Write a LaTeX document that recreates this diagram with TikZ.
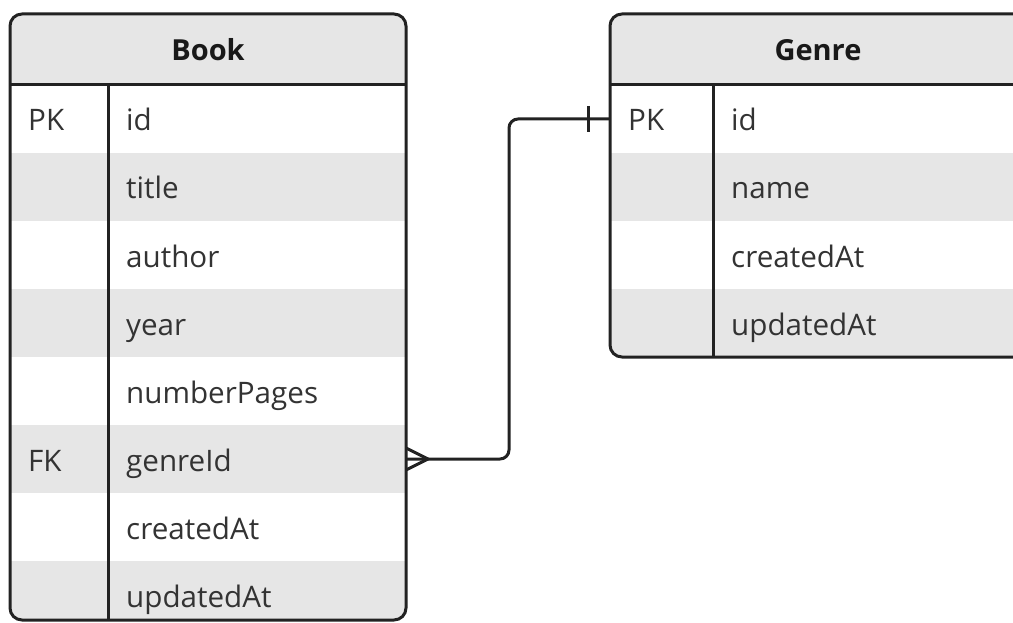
\documentclass[tikz,border=0pt]{standalone}
\usepackage{fontspec}
\setmainfont{Open Sans}
\usepackage{xcolor}
\usepackage{tikz}
\usetikzlibrary{calc}
\tikzset{>=stealth}
\definecolor{stripe}{HTML}{E6E6E6}
\definecolor{ink}{HTML}{222222}
\definecolor{txt}{HTML}{333333}
\tikzset{
  tblrow/.style={inner sep=0pt, outer sep=0pt, minimum height=68pt},
  bookrow/.style={tblrow, minimum width=396pt},
  genrerow/.style={tblrow, minimum width=416pt},
  lbl/.style={anchor=base west, inner sep=0pt, text=txt, font=\fontsize{29.6}{34}\selectfont},
  titletext/.style={anchor=base, inner sep=0pt, text=black!90, font=\bfseries\fontsize{29}{34}\selectfont},
  tblframe/.style={draw=ink, line width=3pt, rounded corners=12pt},
  rel/.style={draw=ink, line width=3pt},
}

\begin{document}
\begin{tikzpicture}[x=1pt,y=-1pt]
    \useasboundingbox (0,0) rectangle (1013,623);
    \clip (0,0) rectangle (1013,623);

    % Book
    \begin{scope}
      \clip[rounded corners=12pt] (10,14) rectangle (406,620);
      \fill[stripe] (10,14) rectangle (406,85);
      \node[bookrow] at (208,119) (b1) {};
      \node[bookrow, fill=stripe] at (208,187) (b2) {};
      \node[bookrow] at (208,255) (b3) {};
      \node[bookrow, fill=stripe] at (208,323) (b4) {};
      \node[bookrow] at (208,391) (b5) {};
      \node[bookrow, fill=stripe] at (208,459) (b6) {};
      \node[bookrow] at (208,527) (b7) {};
      \node[bookrow, fill=stripe] at (208,595) (b8) {};
    \end{scope}
    \draw[tblframe] (10,14) rectangle (406,620);
    \draw[rel] (10,85) -- (406,85);
    \draw[rel] (108,85) -- (108,620);

    \node[titletext] at (208,61) (bt) {Book};
    \node[lbl] at (28,131) (bk1) {PK};
    \node[lbl] at (126,131) (bf1) {id};
    \node[lbl] at (126,199) (bf2) {title};
    \node[lbl] at (126,267) (bf3) {author};
    \node[lbl] at (126,335) (bf4) {year};
    \node[lbl] at (126,403) (bf5) {numberPages};
    \node[lbl] at (28,471) (bk6) {FK};
    \node[lbl] at (126,471) (bf6) {genreId};
    \node[lbl] at (126,539) (bf7) {createdAt};
    \node[lbl] at (126,607) (bf8) {updatedAt};

    % Genre
    \begin{scope}
      \clip[rounded corners=12pt] (610,14) rectangle (1026,357);
      \fill[stripe] (610,14) rectangle (1026,85);
      \node[genrerow] at (818,119) (g1) {};
      \node[genrerow, fill=stripe] at (818,187) (g2) {};
      \node[genrerow] at (818,255) (g3) {};
      \node[genrerow, fill=stripe] at (818,323) (g4) {};
    \end{scope}
    \draw[tblframe] (610,14) rectangle (1026,357);
    \draw[rel] (610,85) -- (1026,85);
    \draw[rel] (713,85) -- (713,357);

    \node[titletext] at (818,61) (gt) {Genre};
    \node[lbl] at (628,131) (gk1) {PK};
    \node[lbl] at (731,131) (gf1) {id};
    \node[lbl] at (731,199) (gf2) {name};
    \node[lbl] at (731,267) (gf3) {createdAt};
    \node[lbl] at (731,335) (gf4) {updatedAt};

    % relation
    \coordinate (bend) at (509,0);
    \draw[rel, rounded corners=9pt] (b6.east) -| (bend |- g1.west) -- (g1.west);
    \draw[rel] ([yshift=11pt]b6.east) -- ([xshift=22pt]b6.east) -- ([yshift=-11pt]b6.east);
    \draw[rel] ([xshift=-22pt,yshift=13pt]g1.west) -- ([xshift=-22pt,yshift=-13pt]g1.west);
\end{tikzpicture}
\end{document}
